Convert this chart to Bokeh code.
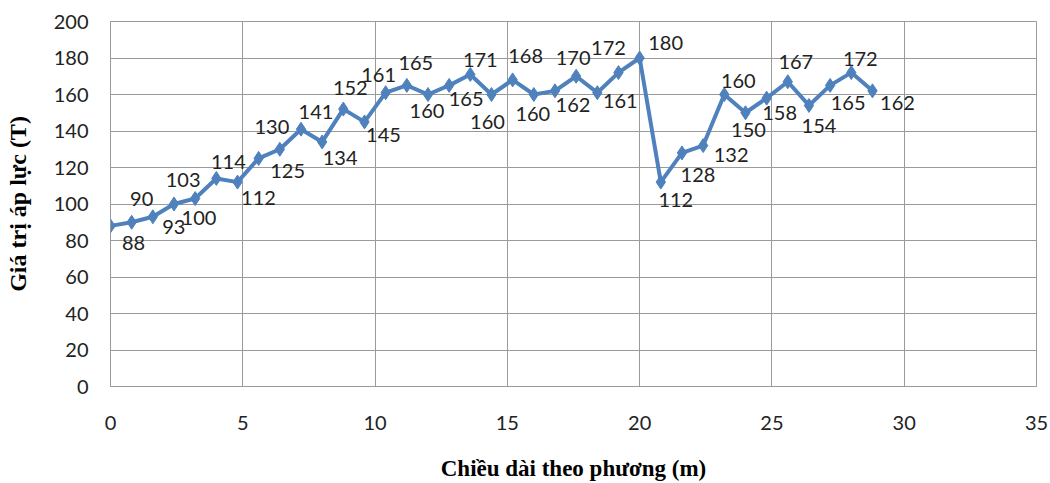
from bokeh.plotting import figure
from bokeh.models import ColumnDataSource, Range1d, FixedTicker
from bokeh.core.properties import value
from bokeh.embed import file_html
from bokeh.resources import INLINE

# Distance along the direction (m) and measured pressure (T)
distance_m = [0.0, 0.8, 1.6, 2.4, 3.2, 4.0, 4.8, 5.6, 6.4, 7.2, 8.0, 8.8, 9.6,
              10.4, 11.2, 12.0, 12.8, 13.6, 14.4, 15.2, 16.0, 16.8, 17.6, 18.4,
              19.2, 20.0, 20.8, 21.6, 22.4, 23.2, 24.0, 24.8, 25.6, 26.4, 27.2,
              28.0, 28.8]
pressure_t = [88, 90, 93, 100, 103, 114, 112, 125, 130, 141, 134, 152, 145,
              161, 165, 160, 165, 171, 160, 168, 160, 162, 170, 161, 172, 180,
              112, 128, 132, 160, 150, 158, 167, 154, 165, 172, 162]

x_ticks = [0, 5, 10, 15, 20, 25, 30, 35]
y_ticks = [0, 20, 40, 60, 80, 100, 120, 140, 160, 180, 200]

# Screen offsets (px) of each value label relative to its marker
label_dx = [23, 10, 21, 25, -12, 12, 21, 29, -8, 15, 18, 7, 19, -7, 9, -1, 17,
            10, -4, 13, -1, 18, -3, 23, -10, 26, 15, 16, 28, 14, 3, 13, 8, 10,
            18, 9, 25]
label_dy = [17, -23, 10, 14, -19, -16, 16, 13, -22, -17, 16, -21, 13, -18, -22,
            16, 14, -14, 27, -24, 19, 14, -18, 8, -25, -15, 18, 22, 9, -14, 17,
            15, -20, 21, 18, -14, 12]

LINE_BLUE = "#4F81BD"
GRID = "#9a9a9a"
TEXT = "#222222"

src = ColumnDataSource(dict(
    x=distance_m, y=pressure_t,
    label=[str(v) for v in pressure_t],
    dx=label_dx, dy=label_dy,
))

p = figure(width=1050, height=483, output_backend="svg", toolbar_location=None,
           x_range=Range1d(0, 35), y_range=Range1d(0, 200),
           min_border_left=110, min_border_right=14,
           min_border_top=21, min_border_bottom=96)

p.background_fill_color = "white"
p.border_fill_color = "white"
p.outline_line_color = GRID

p.xaxis.ticker = FixedTicker(ticks=x_ticks)
p.yaxis.ticker = FixedTicker(ticks=y_ticks)
p.xgrid.ticker = FixedTicker(ticks=x_ticks)
p.ygrid.ticker = FixedTicker(ticks=y_ticks)
p.grid.grid_line_color = GRID
p.grid.grid_line_width = 1

for ax in (p.xaxis, p.yaxis):
    ax.axis_line_color = GRID
    ax.major_tick_line_color = None
    ax.minor_tick_line_color = None
    ax.major_tick_in = 0
    ax.major_tick_out = 0
    ax.major_label_text_font = "Lato"
    ax.major_label_text_font_size = "20px"
    ax.major_label_text_color = TEXT
    ax.axis_label_text_font = "Liberation Serif"
    ax.axis_label_text_font_style = "bold"
    ax.axis_label_text_color = "black"

p.xaxis.axis_label = "Chiều dài theo phương (m)"
p.yaxis.axis_label = "Giá trị áp lực (T)"
p.xaxis.axis_label_text_font_size = "23px"
p.yaxis.axis_label_text_font_size = "24px"
p.xaxis.major_label_standoff = 29
p.xaxis.axis_label_standoff = 23
p.yaxis.major_label_standoff = 22
p.yaxis.axis_label_standoff = 20

p.line("x", "y", source=src, line_color=LINE_BLUE, line_width=4,
       line_join="round")
p.scatter("x", "y", source=src, marker="diamond", size=14,
          fill_color=LINE_BLUE, line_color=LINE_BLUE)
p.text("x", "y", text="label", source=src, x_offset="dx", y_offset="dy",
       text_align="center", text_baseline="middle",
       text_font=value("Lato"), text_font_size="20px", text_color=TEXT)

open("out.html", "w").write(file_html(p, INLINE))
